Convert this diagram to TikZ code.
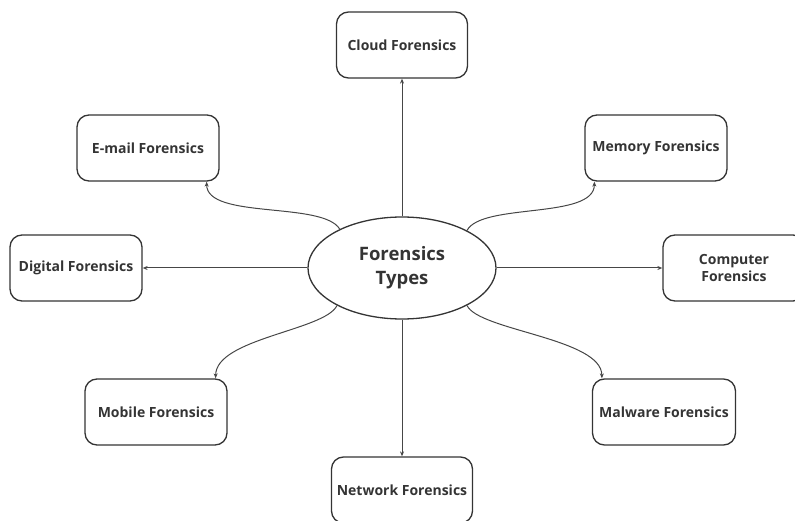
\documentclass[tikz,border=0pt]{standalone}
\usepackage{fontspec}
\setmainfont{Open Sans}
\usepackage{tikz}
\usetikzlibrary{shapes.geometric, arrows.meta}
\definecolor{boxink}{RGB}{52, 52, 52}
\definecolor{wireink}{RGB}{70, 70, 70}

\begin{document}
\begin{tikzpicture}[x=1pt, y=-1pt, font=\bfseries\fontsize{14}{17}\selectfont,
    fbox/.style={draw=boxink, line width=1.3pt, rounded corners=12pt,
                 minimum height=66pt, align=center, text=boxink, inner sep=2pt},
    wire/.style={draw=wireink, line width=1pt, -{Stealth[length=5pt, width=4pt]}}]
  \useasboundingbox (0,0) rectangle (795,521);
  % centre
  \node[ellipse, draw=boxink, line width=1.3pt, minimum width=188pt, minimum height=102pt,
        align=center, text=boxink, font=\bfseries\fontsize{18.5}{24}\selectfont]
        (types) at (402,268) {Forensics\\Types};
  % the types
  \node[fbox, minimum width=131pt] (cloud)    at (402,45)  {Cloud Forensics};
  \node[fbox, minimum width=142pt] (email)    at (148,148) {E-mail Forensics};
  \node[fbox, minimum width=142pt] (memory)   at (656,148) {Memory Forensics};
  \node[fbox, minimum width=132pt] (digital)  at (76,268)  {Digital Forensics};
  \node[fbox, minimum width=142pt] (computer) at (734,268) {Computer\\Forensics};
  \node[fbox, minimum width=142pt] (mobile)   at (156,412) {Mobile Forensics};
  \node[fbox, minimum width=143pt] (malware)  at (664,412) {Malware Forensics};
  \node[fbox, minimum width=141pt] (network)  at (402,490) {Network Forensics};
  % straight links
  \draw[wire] (types.north) -- (cloud.south);
  \draw[wire] (types.south) -- (network.north);
  \draw[wire] (types.west)  -- (digital.east);
  \draw[wire] (types.east)  -- (computer.west);
  % curved links
  \draw[wire] (types.148) .. controls +(-17,-28) and +(0,38) .. ([xshift=-13pt]email.south east);
  \draw[wire] (types.30)  .. controls +(15,-28)  and +(0,38) .. ([xshift=10pt]memory.south west);
  \draw[wire] (types.210) .. controls +(-12,25)  and +(0,-40) .. ([xshift=-12pt]mobile.north east);
  \draw[wire] (types.330) .. controls +(12,25)   and +(0,-40) .. ([xshift=10pt]malware.north west);
\end{tikzpicture}
\end{document}
